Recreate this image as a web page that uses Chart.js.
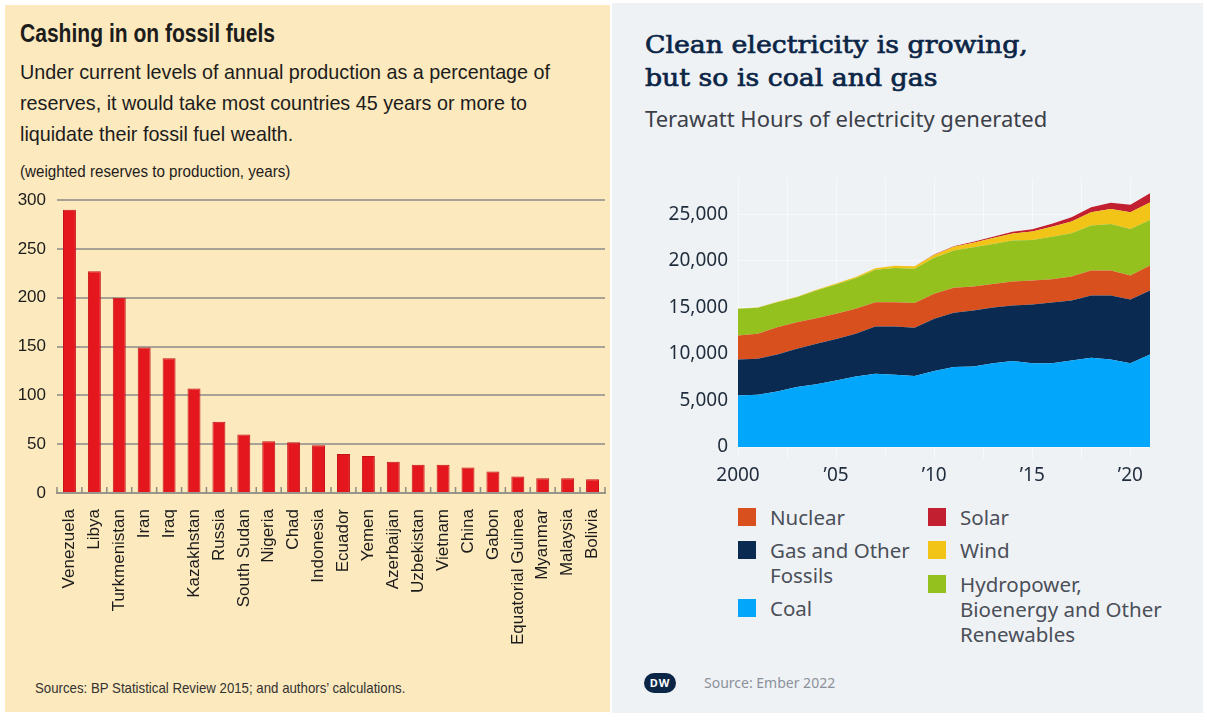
<!DOCTYPE html>
<html>
<head>
<meta charset="utf-8">
<script src="https://cdn.jsdelivr.net/npm/chart.js@4"></script>
<style>
  body { margin: 0; width: 1207px; height: 720px; background: #fff; position: relative; overflow: hidden; }
  .panel { position: absolute; }
  #left { left: 5px; top: 5px; width: 605px; height: 707px; background: #fce9bd; }
  #right { left: 612px; top: 3px; width: 591px; height: 710px; background: #eff2f5; }
  .narrow { font-family: 'Liberation Sans', Arial, sans-serif; color: #1c1c1c; position: absolute; white-space: nowrap; transform-origin: 0 0; }
  .sans { font-family: 'Noto Sans', 'Open Sans', sans-serif; position: absolute; white-space: nowrap; transform-origin: 0 0; }
  .box { position: absolute; }
  .legend-item { position: absolute; font-family: 'Noto Sans', 'Open Sans', sans-serif; font-size: 20.5px; line-height: 25px; color: #4a4f58; white-space: nowrap; }
  .legend-item i { position: absolute; left: -32px; top: 3px; width: 18px; height: 18px; }
</style>
</head>
<body>
<div id="left" class="panel"></div>
<div id="right" class="panel"></div>

<div class="narrow fit" data-w="255" style="left:20px; top:19px; font-size:25px; font-weight:bold;">Cashing in on fossil fuels</div>
<div class="narrow fit" data-w="530" style="left:20px; top:56px; font-size:21px; line-height:31px;">Under current levels of annual production as a percentage of<br>reserves, it would take most countries 45 years or more to<br>liquidate their fossil fuel wealth.</div>
<div class="narrow fit" data-w="270" style="left:20px; top:163px; font-size:16px;">(weighted reserves to production, years)</div>
<div class="narrow fit" data-w="370" style="left:35px; top:679px; font-size:15px; color:#333;">Sources: BP Statistical Review 2015; and authors’ calculations.</div>

<div class="box" style="left:10px; top:188px; width:612px; height:470px;"><canvas id="barChart"></canvas></div>

<div class="sans fit" data-w="383" style="left:645px; top:28px; font-family:'DejaVu Serif', 'Liberation Serif', serif; font-size:25px; line-height:33px; color:#0b2546; -webkit-text-stroke:0.7px #0b2546;">Clean electricity is growing,<br>but so is coal and gas</div>
<div class="sans" style="left:645px; top:103px; font-size:22px; color:#3b4048;">Terawatt Hours of electricity generated</div>

<div class="box" style="left:612px; top:170px; width:590px; height:320px;"><canvas id="areaChart"></canvas></div>

<div id="legend"></div>

<div class="sans" style="left:644px; top:673px; width:32px; height:20px; border-radius:10px; background:#0b2546; color:#fff; font-size:11px; font-weight:bold; line-height:20px; text-align:center; letter-spacing:1px;">DW</div>
<div class="sans" style="left:704px; top:673px; font-size:14px; color:#8b919a;">Source: Ember 2022</div>

<script>
// left chart: reserves to production
const countries = ['Venezuela', 'Libya', 'Turkmenistan', 'Iran', 'Iraq', 'Kazakhstan', 'Russia', 'South Sudan',
    'Nigeria', 'Chad', 'Indonesia', 'Ecuador', 'Yemen', 'Azerbaijan', 'Uzbekistan', 'Vietnam', 'China', 'Gabon',
    'Equatorial Guinea', 'Myanmar', 'Malaysia', 'Bolivia'];
const reserveYears = [290, 227, 200, 149, 138, 107, 73, 60, 53, 52, 49, 40, 38, 32, 29, 29, 26, 22, 17, 15, 15, 14];
const leftTicks = [0, 50, 100, 150, 200, 250, 300];

// right chart: TWh generated
const years = [2000, 2001, 2002, 2003, 2004, 2005, 2006, 2007, 2008, 2009, 2010,
    2011, 2012, 2013, 2014, 2015, 2016, 2017, 2018, 2019, 2020, 2021];
const coal = [5540, 5620, 5970, 6440, 6730, 7150, 7580, 7870, 7760, 7620, 8160,
    8590, 8660, 9010, 9230, 9010, 9010, 9300, 9590, 9410, 9010, 9940];
const gas = [3860, 3860, 3970, 4110, 4360, 4440, 4580, 5080, 5190, 5190, 5620,
    5830, 6010, 5970, 5970, 6300, 6510, 6440, 6690, 6870, 6830, 6870];
const nuclear = [2580, 2680, 2930, 2860, 2750, 2720, 2680, 2610, 2610, 2650, 2680,
    2680, 2580, 2540, 2580, 2580, 2500, 2580, 2680, 2680, 2580, 2680];
const hydro = [2860, 2790, 2680, 2680, 2970, 3150, 3290, 3470, 3680, 3680, 3860,
    4010, 4220, 4290, 4400, 4360, 4580, 4650, 4830, 5010, 5010, 4900];
const wind = [30, 40, 50, 60, 80, 100, 130, 170, 220, 270, 320,
    400, 480, 640, 760, 900, 1050, 1260, 1420, 1600, 1780, 1890];
const solar = [1, 2, 2, 3, 3, 4, 6, 8, 12, 20, 32,
    60, 100, 140, 190, 250, 330, 440, 560, 680, 820, 990];
const gridYears = [2000, 2002.5, 2005, 2007.5, 2010, 2012.5, 2015, 2017.5, 2020];
const tickYears = [2000, 2005, 2010, 2015, 2020];
const tickLabels = ['2000', '’05', '’10', '’15', '’20'];
const rightTicks = [0, 5000, 10000, 15000, 20000, 25000];

const narrowFont = "'Liberation Sans', Arial, sans-serif";
const sansFont = "'Noto Sans', 'Open Sans', sans-serif";

// squeeze the condensed headline texts to the widths they have in the print
document.querySelectorAll('.fit').forEach(el => {
    const k = Number(el.dataset.w) / el.offsetWidth;
    el.style.transform = 'scaleX(' + k.toFixed(3) + ')';
});

// axes keep their plot box, no extra room for half labels
function noPad(scale) {
    scale.paddingTop = 0; scale.paddingBottom = 0;
    scale.paddingLeft = 0; scale.paddingRight = 0;
}

// small marks between bars on the baseline
const baseTicks = {
    id: 'baseTicks',
    afterDatasetsDraw(chart) {
        const x = chart.scales.x, y = chart.scales.y;
        const step = x.getPixelForValue(1) - x.getPixelForValue(0);
        const base = y.getPixelForValue(0);
        const ctx = chart.ctx;
        ctx.save();
        ctx.strokeStyle = '#8d8a80';
        ctx.lineWidth = 1.5;
        for (let i = 0; i <= countries.length; i++) {
            const px = x.getPixelForValue(i) - step / 2;
            ctx.beginPath();
            ctx.moveTo(px, base);
            ctx.lineTo(px, base - 6);
            ctx.stroke();
        }
        ctx.restore();
    }
};

new Chart(document.getElementById('barChart').getContext('2d'), {
    type: 'bar',
    data: {
        labels: countries,
        datasets: [{
            data: reserveYears,
            backgroundColor: '#e3171d',
            borderColor: '#c41218',
            borderWidth: 1,
            barPercentage: 0.52,
            categoryPercentage: 1
        }]
    },
    options: {
        responsive: true,
        maintainAspectRatio: false,
        animation: false,
        layout: { padding: { top: 12, right: 17 } },
        plugins: { legend: { display: false }, tooltip: { enabled: false } },
        scales: {
            x: {
                grid: { display: false },
                border: { display: true, color: '#9a968b', width: 2 },
                ticks: {
                    minRotation: 90, maxRotation: 90, autoSkip: false, padding: 8,
                    color: '#1c1c1c', font: { family: narrowFont, size: 17 }
                },
                afterFit(scale) { scale.height = 165; noPad(scale); }
            },
            y: {
                min: 0, max: 300,
                afterBuildTicks(scale) { scale.ticks = leftTicks.map(v => ({ value: v })); },
                grid: { color: '#a7a295', lineWidth: 2, drawTicks: false },
                border: { display: false },
                ticks: { padding: 11, color: '#1c1c1c', font: { family: narrowFont, size: 17 } },
                afterFit(scale) { scale.width = 47; noPad(scale); }
            }
        }
    },
    plugins: [baseTicks]
});

// stacked area chart
const series = [
    { label: 'Coal', data: coal, color: '#02a6fa' },
    { label: 'Gas and Other Fossils', data: gas, color: '#0b2a52' },
    { label: 'Nuclear', data: nuclear, color: '#d9501f' },
    { label: 'Hydropower, Bioenergy and Other Renewables', data: hydro, color: '#95c11f' },
    { label: 'Wind', data: wind, color: '#f2c417' },
    { label: 'Solar', data: solar, color: '#c21f30' }
];

new Chart(document.getElementById('areaChart').getContext('2d'), {
    type: 'line',
    data: {
        datasets: series.map((s, i) => ({
            label: s.label,
            data: years.map((yr, j) => ({ x: yr, y: s.data[j] })),
            backgroundColor: s.color,
            borderColor: s.color,
            borderWidth: 0,
            pointRadius: 0,
            tension: 0,
            fill: i === 0 ? 'origin' : '-1'
        }))
    },
    options: {
        responsive: true,
        maintainAspectRatio: false,
        animation: false,
        layout: { padding: { top: 8, right: 52 } },
        plugins: { legend: { display: false }, tooltip: { enabled: false } },
        scales: {
            x: {
                type: 'linear', min: 2000, max: 2021,
                z: 1,
                afterBuildTicks(scale) { scale.ticks = gridYears.map(v => ({ value: v })); },
                grid: { color: 'rgba(255,255,255,0.45)', lineWidth: 1, tickLength: 12 },
                border: { display: false },
                ticks: {
                    padding: 5, color: '#1f2c3c', font: { family: sansFont, size: 19 },
                    callback(v) { const k = tickYears.indexOf(v); return k >= 0 ? tickLabels[k] : ''; }
                },
                afterFit(scale) { scale.height = 43; noPad(scale); }
            },
            y: {
                stacked: true, min: 0, max: 28900,
                z: 1,
                afterBuildTicks(scale) { scale.ticks = rightTicks.map(v => ({ value: v })); },
                grid: { color: 'rgba(255,255,255,0.45)', lineWidth: 1, drawTicks: false },
                border: { display: false },
                ticks: {
                    padding: 10, color: '#1f2c3c', font: { family: sansFont, size: 19 },
                    callback(v) { return v.toLocaleString('en-US'); }
                },
                afterFit(scale) { scale.width = 126; noPad(scale); }
            }
        }
    }
});

// html legend in two columns, built from the series
const legendRows = [
    ['Nuclear', 770, 505], ['Gas and Other Fossils', 770, 538], ['Coal', 770, 596],
    ['Solar', 960, 505], ['Wind', 960, 538], ['Hydropower, Bioenergy and Other Renewables', 960, 572]
];
const legendText = {
    'Gas and Other Fossils': 'Gas and Other<br>Fossils',
    'Hydropower, Bioenergy and Other Renewables': 'Hydropower,<br>Bioenergy and Other<br>Renewables'
};
const legendEl = document.getElementById('legend');
legendRows.forEach(([name, left, top]) => {
    const s = series.find(d => d.label === name);
    const item = document.createElement('div');
    item.className = 'legend-item';
    item.style.left = left + 'px';
    item.style.top = top + 'px';
    item.innerHTML = '<i style="background:' + s.color + '"></i>' + (legendText[name] || name);
    legendEl.appendChild(item);
});
</script>
</body>
</html>
